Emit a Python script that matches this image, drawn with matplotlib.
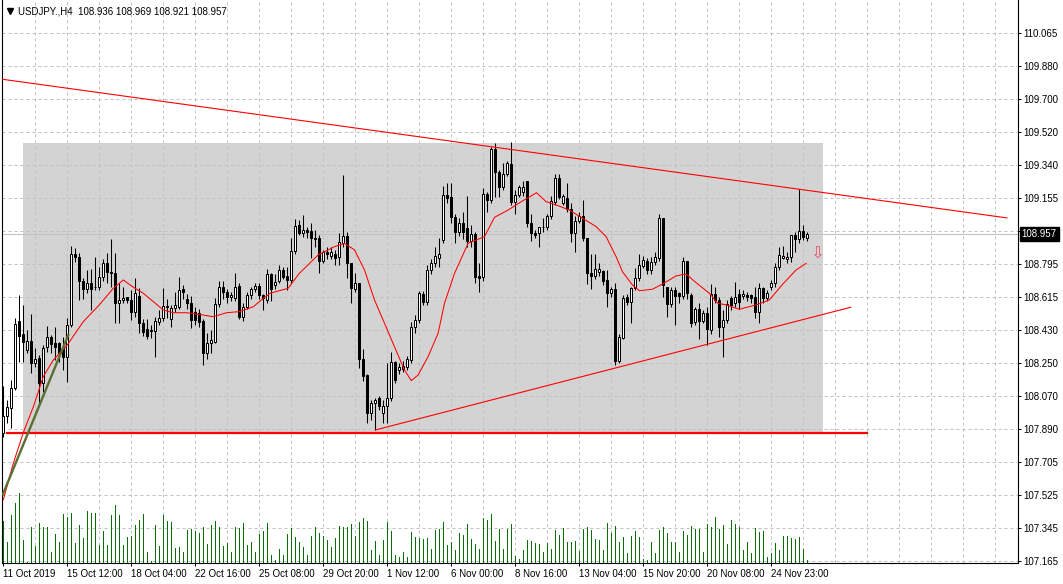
import numpy as np
import matplotlib
matplotlib.use("Agg")
import matplotlib.pyplot as plt
import matplotlib.transforms as mtransforms
from matplotlib.lines import Line2D
from matplotlib.patches import Rectangle

plt.rcParams['font.family'] = ['Liberation Sans', 'DejaVu Sans']

# USDJPY H4 candles
opens = [107.865, 107.961, 108.005, 108.112, 108.481, 108.408, 108.322, 108.371, 108.253, 108.276,
         108.143, 108.337, 108.392, 108.359, 108.359, 108.340, 108.286, 108.459, 108.849, 108.831,
         108.703, 108.659, 108.692, 108.667, 108.670, 108.721, 108.802, 108.752, 108.743, 108.578,
         108.597, 108.611, 108.597, 108.533, 108.620, 108.469, 108.440, 108.432, 108.425, 108.478,
         108.496, 108.564, 108.490, 108.551, 108.560, 108.656, 108.600, 108.582, 108.533, 108.523,
         108.481, 108.307, 108.362, 108.368, 108.573, 108.670, 108.643, 108.615, 108.606, 108.674,
         108.505, 108.560, 108.624, 108.656, 108.674, 108.624, 108.597,
         108.740, 108.680, 108.700, 108.761, 108.730, 108.707, 108.866, 109.010, 108.966, 108.981,
         108.976, 108.940, 108.940, 108.813, 108.862, 108.840, 108.850, 108.835, 108.908, 108.948,
         108.798, 108.660, 108.688, 108.271, 108.185, 107.975, 108.030, 108.057, 107.975, 108.015,
         108.060, 108.258, 108.212, 108.220, 108.227, 108.267, 108.450, 108.487, 108.630, 108.585,
         108.761, 108.798, 108.830, 108.926, 109.173, 109.164, 109.051, 108.972, 109.021, 108.990,
         108.920, 108.960, 108.730, 108.725, 109.177, 109.146, 109.424, 109.301, 109.215, 109.290,
         109.343, 109.137, 109.173, 109.190, 109.250, 109.018, 108.963,
         108.963, 109.000, 108.996, 109.058, 109.137, 109.265, 109.130, 109.155, 109.094, 108.963,
         109.030, 109.058, 108.935, 108.747, 108.728, 108.752, 108.756, 108.707, 108.637, 108.655,
         108.264, 108.390, 108.611, 108.588, 108.661, 108.716, 108.783, 108.810, 108.760, 108.807,
         108.826, 109.045, 108.666, 108.575, 108.652, 108.633, 108.619, 108.810, 108.624, 108.478,
         108.545, 108.483, 108.523, 108.430, 108.630, 108.597, 108.450, 108.487, 108.606, 108.578,
         108.630, 108.619, 108.624, 108.624, 108.615, 108.533, 108.661, 108.606, 108.666, 108.689,
         108.776, 108.830, 108.820, 108.831, 108.954, 108.930, 108.976, 108.936]
highs = [108.124, 108.048, 108.157, 108.496, 108.624, 108.569, 108.432, 108.518, 108.331, 108.295,
         108.350, 108.454, 108.405, 108.450, 108.365, 108.395, 108.496, 108.893, 108.880, 108.857,
         108.716, 108.761, 108.765, 108.835, 108.780, 108.820, 108.853, 108.931, 108.853, 108.688,
         108.670, 108.615, 108.652, 108.716, 108.661, 108.490, 108.490, 108.460, 108.505, 108.542,
         108.661, 108.600, 108.570, 108.643, 108.725, 108.680, 108.630, 108.620, 108.560, 108.545,
         108.490, 108.414, 108.432, 108.610, 108.701, 108.701, 108.660, 108.640, 108.747, 108.690,
         108.580, 108.640, 108.670, 108.690, 108.690, 108.630, 108.765,
         108.744, 108.740, 108.790, 108.780, 108.780, 108.935, 109.040, 109.036, 109.063, 109.000,
         109.018, 108.980, 108.954, 108.870, 108.890, 108.890, 108.870, 108.966, 109.283, 108.972,
         108.800, 108.744, 108.690, 108.326, 108.190, 108.050, 108.057, 108.070, 108.050, 108.250,
         108.313, 108.260, 108.250, 108.260, 108.290, 108.478, 108.515, 108.646, 108.646, 108.789,
         108.820, 108.889, 108.940, 109.222, 109.240, 109.237, 109.070, 109.050, 109.080, 109.170,
         109.010, 108.970, 108.800, 109.210, 109.190, 109.439, 109.460, 109.310, 109.350, 109.360,
         109.466, 109.200, 109.230, 109.250, 109.250, 109.070, 108.980,
         109.000, 109.050, 109.070, 109.170, 109.287, 109.287, 109.180, 109.240, 109.127, 109.060,
         109.080, 109.146, 108.940, 108.850, 108.850, 108.800, 108.760, 108.760, 108.670, 108.688,
         108.410, 108.624, 108.630, 108.670, 108.770, 108.850, 108.840, 108.830, 108.835, 108.860,
         109.069, 109.050, 108.670, 108.670, 108.670, 108.640, 108.835, 108.810, 108.633, 108.560,
         108.580, 108.540, 108.560, 108.685, 108.670, 108.615, 108.540, 108.597, 108.620, 108.697,
         108.660, 108.650, 108.640, 108.630, 108.670, 108.688, 108.670, 108.650, 108.707, 108.800,
         108.890, 108.893, 108.860, 108.954, 108.972, 109.205, 109.009, 108.969]
lows = [107.846, 107.920, 107.892, 108.103, 108.258, 108.258, 108.304, 108.194, 108.231, 108.029,
        108.094, 108.313, 108.304, 108.267, 108.258, 108.212, 108.148, 108.450, 108.807, 108.597,
        108.600, 108.633, 108.542, 108.652, 108.652, 108.700, 108.688, 108.670, 108.469, 108.469,
        108.578, 108.578, 108.487, 108.505, 108.414, 108.400, 108.380, 108.386, 108.286, 108.460,
        108.480, 108.500, 108.450, 108.530, 108.550, 108.600, 108.550, 108.441, 108.460, 108.450,
        108.240, 108.273, 108.304, 108.360, 108.560, 108.600, 108.580, 108.590, 108.590, 108.490,
        108.480, 108.550, 108.600, 108.640, 108.600, 108.542, 108.580,
        108.593, 108.660, 108.690, 108.710, 108.652, 108.690, 108.850, 108.954, 108.944, 108.940,
        108.826, 108.890, 108.747, 108.800, 108.820, 108.820, 108.790, 108.789, 108.890, 108.716,
        108.578, 108.640, 108.222, 108.150, 107.920, 107.940, 107.883, 107.990, 107.920, 107.920,
        108.040, 108.140, 108.190, 108.200, 108.210, 108.250, 108.414, 108.470, 108.570, 108.570,
        108.740, 108.780, 108.780, 108.910, 109.130, 109.020, 108.910, 108.950, 108.930, 108.890,
        108.890, 108.690, 108.640, 108.700, 109.080, 109.130, 109.160, 109.160, 109.200, 109.280,
        109.120, 109.070, 109.160, 109.170, 109.000, 108.920, 108.940,
        108.890, 108.970, 108.980, 109.040, 109.120, 109.150, 109.120, 109.080, 108.917, 108.860,
        109.020, 108.920, 108.685, 108.655, 108.710, 108.730, 108.680, 108.560, 108.615, 108.240,
        108.250, 108.380, 108.570, 108.472, 108.650, 108.700, 108.770, 108.740, 108.740, 108.790,
        108.810, 108.615, 108.505, 108.560, 108.459, 108.580, 108.600, 108.600, 108.450, 108.460,
        108.380, 108.470, 108.350, 108.410, 108.580, 108.395, 108.286, 108.470, 108.540, 108.560,
        108.550, 108.600, 108.590, 108.580, 108.500, 108.469, 108.580, 108.590, 108.650, 108.670,
        108.760, 108.820, 108.800, 108.807, 108.862, 108.912, 108.926, 108.921]
closes = [107.961, 108.007, 108.112, 108.463, 108.401, 108.364, 108.371, 108.253, 108.271, 108.143,
          108.335, 108.392, 108.355, 108.340, 108.307, 108.286, 108.459, 108.849, 108.831, 108.703,
          108.655, 108.692, 108.659, 108.670, 108.721, 108.802, 108.752, 108.743, 108.578, 108.597,
          108.606, 108.597, 108.533, 108.633, 108.469, 108.420, 108.401, 108.425, 108.481, 108.500,
          108.564, 108.556, 108.555, 108.569, 108.652, 108.643, 108.578, 108.487, 108.487, 108.478,
          108.307, 108.362, 108.375, 108.573, 108.670, 108.643, 108.615, 108.624, 108.670, 108.502,
          108.560, 108.624, 108.656, 108.674, 108.624, 108.606, 108.740,
          108.656, 108.695, 108.761, 108.725, 108.707, 108.866, 109.003, 108.963, 108.981, 108.972,
          108.935, 108.930, 108.813, 108.862, 108.850, 108.860, 108.829, 108.913, 108.948, 108.798,
          108.661, 108.688, 108.271, 108.181, 107.975, 108.029, 108.047, 108.015, 108.015, 108.060,
          108.258, 108.157, 108.231, 108.236, 108.271, 108.450, 108.487, 108.633, 108.588, 108.761,
          108.798, 108.838, 108.850, 109.173, 109.155, 109.051, 108.972, 109.021, 108.972, 108.920,
          108.960, 108.725, 108.720, 109.177, 109.146, 109.424, 109.301, 109.215, 109.290, 109.347,
          109.137, 109.173, 109.215, 109.220, 109.018, 108.963, 108.954,
          108.999, 108.996, 109.058, 109.140, 109.265, 109.164, 109.170, 109.094, 108.963, 109.030,
          109.058, 108.935, 108.747, 108.728, 108.765, 108.765, 108.703, 108.637, 108.655, 108.264,
          108.392, 108.610, 108.588, 108.661, 108.716, 108.789, 108.816, 108.760, 108.807, 108.835,
          109.045, 108.680, 108.575, 108.652, 108.619, 108.619, 108.810, 108.633, 108.472, 108.545,
          108.483, 108.523, 108.436, 108.630, 108.597, 108.450, 108.487, 108.575, 108.570, 108.615,
          108.588, 108.630, 108.615, 108.606, 108.533, 108.661, 108.606, 108.633, 108.688, 108.776,
          108.844, 108.840, 108.835, 108.954, 108.930, 108.976, 108.941, 108.957]

# tick volumes (relative)
volumes = [42, 21, 48, 60, 70, 23, 1, 36, 17, 40, 36, 36, 11, 29, 21, 49, 46, 50, 20, 38,
           25, 52, 50, 50, 18, 32, 18, 48, 58, 48, 18, 26, 27, 38, 43, 49, 11, 2, 38, 17,
           48, 42, 41, 15, 16, 11, 33, 34, 32, 30, 36, 19, 38, 42, 36, 17, 20, 11, 36, 35,
           40, 18, 21, 11, 29, 32, 40, 8, 3, 14, 8, 29, 35, 26, 21, 16, 8, 27, 36, 30,
           27, 23, 16, 25, 37, 36, 36,
           39, 27, 41, 45, 42, 13, 22, 8, 23, 41, 32, 8, 6, 11, 6, 31, 26, 25, 24, 25,
           14, 33, 34, 41, 18, 21, 13, 30, 28, 39, 24, 19, 14, 45, 43, 49, 22, 34, 14, 34,
           39, 7, 4, 13, 23, 22, 20, 19, 11, 20, 14, 33, 28, 35, 21, 21, 22, 12, 34, 36,
           33, 24, 23, 13, 40, 30, 37, 21, 26, 10, 27, 32, 26, 4, 3, 21, 10, 33, 36, 30,
           21, 21, 11, 32, 28, 37, 34, 34,
           11, 39, 36, 46, 34, 38, 19, 43, 39, 36, 13, 21, 10, 35, 31, 32, 6, 10, 20, 13,
           27, 27, 25, 24, 26, 14, 3]

# moving average (read at points)
ma_bars = [0, 2.5, 5, 7.5, 10, 12.5, 16, 20, 24, 27.5, 30, 32.5, 35, 37.5, 40, 42.5, 45.8, 49,
           52.5, 55.8, 59, 62.5, 65, 66.7, 71.2, 74, 78.7, 82.8, 85.3, 87.8, 90.3, 92.8, 95.3,
           97.8, 100.3, 102, 103.7, 106.2, 108.7, 110.3, 112.8, 116.2, 120.3, 122.8, 126.2,
           129.5, 133.3, 135.7, 138.2, 141.5, 144.8, 148.2, 150.7, 153.2, 154.8, 157.3, 159,
           162.3, 164.8, 168.2, 170.7, 173.2, 176.5, 178.6, 180.7, 184, 188.2, 191.5, 194.9,
           198.2, 200.7]
ma_vals = [107.50, 107.70, 107.868, 108.01, 108.176, 108.267, 108.35, 108.478, 108.57, 108.661,
           108.707, 108.667, 108.634, 108.588, 108.542, 108.527, 108.527, 108.518, 108.505,
           108.527, 108.533, 108.56, 108.606, 108.634, 108.661, 108.743, 108.844, 108.89,
           108.908, 108.872, 108.762, 108.597, 108.469, 108.34, 108.212, 108.154, 108.185,
           108.286, 108.414, 108.579, 108.743, 108.908, 108.945, 109.051, 109.091, 109.137,
           109.186, 109.137, 109.119, 109.091, 109.046, 109.0, 108.945, 108.835, 108.752,
           108.679, 108.648, 108.656, 108.685, 108.729, 108.74, 108.692, 108.634, 108.579,
           108.57, 108.546, 108.57, 108.597, 108.685, 108.762, 108.798]

price_ticks = ['110.065', '109.880', '109.700', '109.520', '109.340', '109.155', '108.975',
               '108.795', '108.615', '108.430', '108.250', '108.070', '107.890', '107.705',
               '107.525', '107.345', '107.165']
date_labels = ['11 Oct 2019', '15 Oct 12:00', '18 Oct 04:00', '22 Oct 16:00', '25 Oct 08:00',
               '29 Oct 20:00', '1 Nov 12:00', '6 Nov 00:00', '8 Nov 16:00', '13 Nov 04:00',
               '15 Nov 20:00', '20 Nov 08:00', '24 Nov 23:00']
last_price = 108.957

o = np.array(opens); h = np.array(highs); l = np.array(lows); c = np.array(closes)
x = np.arange(len(c))

fig = plt.figure(figsize=(10.63, 5.84), dpi=100)
ax = fig.add_axes([2.3 / 1063, 21 / 584, 1015.2 / 1063, 563 / 584])
ax.set_xlim(-0.25, 253.55)
ax.set_ylim(107.1524, 110.2446)

# background objects: rectangle zone
ax.add_patch(Rectangle((4.85, 107.868), 200, 109.461 - 107.868, fc='#d3d3d3', ec='none', zorder=0.5))

# grid
ytick_pos = np.linspace(110.065, 107.165, len(price_ticks))
for yv in ytick_pos:
    ax.axhline(yv, color='#c0c0c0', lw=0.72, dashes=(3, 3), zorder=1)
for xv in range(8, 252, 8):
    ax.axvline(xv, color='#c0c0c0', lw=0.72, dashes=(3, 3), zorder=1)

# current price line
ax.axhline(last_price, color='#c0c0c0', lw=0.72, zorder=1.2)

# volumes at bottom
vol = np.array(volumes, dtype=float)
ax.vlines(x, 0, vol / vol.max() * 0.1243, transform=ax.get_xaxis_transform(),
          color='#0a6e0a', lw=0.72, antialiased=False, zorder=2)

# candles
up = c >= o
ax.vlines(x, l, h, color='black', lw=0.75, zorder=3)
ax.bar(x, np.abs(c - o), bottom=np.minimum(o, c), width=0.5,
       color=np.where(up, 'white', 'black'), edgecolor='black', linewidth=0.72, zorder=4)

# moving average
ax.plot(ma_bars, ma_vals, color='red', lw=0.75, zorder=5)

# trend lines
ax.plot([-0.15, 250.9], [109.809, 109.809 - 0.003032 * 251.05], color='red', lw=0.8, zorder=5)
ax.plot([93, 211.85], [107.883, 108.557], color='red', lw=0.8, zorder=5)
ax.plot([0.85, 215.9], [107.868, 107.868], color='red', lw=1.6, zorder=5)
ax.plot([-0.1, 16.25], [107.53, 108.405], color='#5a6e32', lw=1.7, zorder=5)

# arrow
ax.text(203.4, 108.855, '\u21e9', family='DejaVu Sans', fontsize=12, color='#e8506e',
        ha='center', va='center', zorder=6)

# axes styling
for s in ['left', 'right', 'bottom']:
    ax.spines[s].set_color('black')
    ax.spines[s].set_linewidth(0.8)
ax.spines['top'].set_visible(False)
ax.yaxis.tick_right()
ax.set_yticks(ytick_pos)
# the label under the current price tag is hidden by the tag
ax.set_yticklabels(['' if abs(p - last_price) < 0.05 else t for p, t in zip(ytick_pos, price_ticks)])
ax.set_xticks(np.arange(0, 16 * len(date_labels), 16))
ax.set_xticklabels(date_labels, ha='left')
ax.tick_params(axis='both', direction='out', length=2.5, width=0.7, labelsize=7, pad=1.5, colors='black')
ax.tick_params(axis='y', pad=2)

blend = mtransforms.blended_transform_factory(ax.transAxes, ax.transData)
ax.annotate(f'{last_price:.3f}', xy=(1, last_price), xycoords=blend, xytext=(3, 0),
            textcoords='offset points', ha='left', va='center', fontsize=7, color='white',
            bbox=dict(boxstyle='square,pad=0.2', fc='black', ec='black'), zorder=20,
            annotation_clip=False)

# header
fig.add_artist(Line2D([9.5 / 1063], [1 - 11 / 584], marker='v', ms=4.5, color='black',
                      transform=fig.transFigure))
fig.text(18 / 1063, 1 - 11 / 584, 'USDJPY.,H4  108.936 108.969 108.921 108.957',
         fontsize=7, va='center', ha='left', color='black')

fig.savefig('out.png', dpi=100)
